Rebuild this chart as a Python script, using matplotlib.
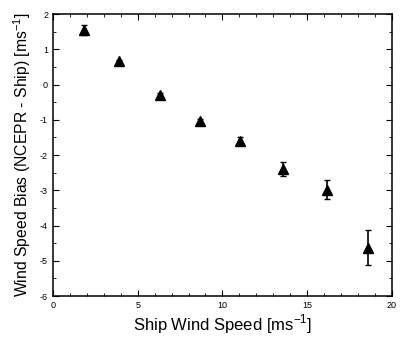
import matplotlib
matplotlib.use("Agg")
import matplotlib.pyplot as plt
from matplotlib.ticker import MultipleLocator

plt.rcParams["font.family"] = ["Liberation Sans", "DejaVu Sans"]
plt.rcParams["axes.unicode_minus"] = False

ship_speed = [1.85, 3.9, 6.3, 8.65, 11.05, 13.6, 16.15, 18.6]
bias = [1.55, 0.66, -0.30, -1.04, -1.60, -2.40, -2.98, -4.63]
bias_err = [0.15, 0.05, 0.05, 0.05, 0.12, 0.2, 0.28, 0.5]

fig = plt.figure(figsize=(4.04, 3.45), dpi=100)
ax = fig.add_axes([0.131, 0.142, 0.839, 0.817])

ax.errorbar(ship_speed, bias, yerr=bias_err, fmt="^", color="black",
            markersize=7, capsize=2, elinewidth=1.2, capthick=1.0)

ax.set_xlim(0, 20)
ax.set_ylim(-6, 2)
ax.xaxis.set_major_locator(MultipleLocator(5))
ax.xaxis.set_minor_locator(MultipleLocator(1))
ax.yaxis.set_major_locator(MultipleLocator(1))
ax.yaxis.set_minor_locator(MultipleLocator(0.5))
ax.tick_params(which="both", direction="in", top=True, right=True, labelsize=6.5)
ax.tick_params(which="major", length=4, width=0.8)
ax.tick_params(which="minor", length=2, width=0.6)
for s in ax.spines.values():
    s.set_linewidth(1.1)

ax.set_xlabel("Ship Wind Speed [ms$^{\\mathregular{-1}}$]", fontsize=12, labelpad=2)
ax.set_ylabel("Wind Speed Bias (NCEPR - Ship) [ms$^{\\mathregular{-1}}$]",
              fontsize=11.3, labelpad=5)

fig.savefig("out.png", dpi=100)
